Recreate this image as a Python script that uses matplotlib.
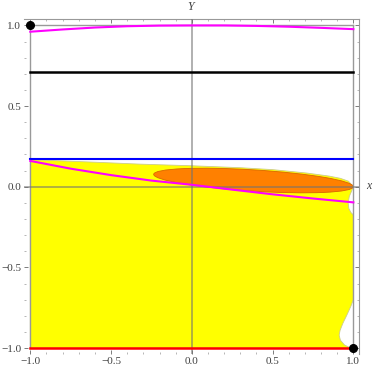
import numpy as np
import matplotlib.pyplot as plt
from matplotlib.patches import Polygon, Ellipse
from matplotlib.ticker import MultipleLocator

plt.rcParams['font.family'] = ['Liberation Serif', 'DejaVu Serif']

# top magenta curve
top_x = [-1.0, -0.8, -0.6, -0.4, -0.2, 0.0, 0.2, 0.4, 0.6, 0.8, 1.0]
top_y = [0.961, 0.975, 0.987, 0.995, 0.999, 1.0, 1.0, 0.997, 0.992, 0.985, 0.977]

# lower magenta curve
low_x = [-1.0, -0.75, -0.5, -0.25, 0.0, 0.25, 0.5, 0.75, 1.0]
low_y = [0.16, 0.112, 0.072, 0.038, 0.012, -0.018, -0.047, -0.073, -0.097]

# yellow region boundary (top edge, right edge with notches, bottom)
reg_x = [-1.0, -0.6, -0.32, 0.0, 0.3, 0.5, 0.71, 0.85, 0.92, 0.97, 1.0,
         0.99, 0.975, 0.968, 0.972, 0.985, 1.0,
         1.0, 0.985, 0.96, 0.935, 0.918, 0.912, 0.92, 0.945, 0.975, 1.0, -1.0]
reg_y = [0.168, 0.152, 0.140, 0.130, 0.118, 0.106, 0.085, 0.066, 0.052, 0.034, 0.0,
         -0.025, -0.06, -0.10, -0.135, -0.16, -0.175,
         -0.70, -0.74, -0.795, -0.847, -0.89, -0.92, -0.952, -0.981, -0.996, -1.0, -1.0]

# orange ellipse: ends of major axis, half minor axis
ell_ends = [(-0.236, 0.077), (1.0, 0.0)]
ell_half_minor = 0.066

h_lines = {'blue': 0.17, 'black': 0.71, 'red': -1.0}
dots_x = [-1.0, 1.0]
dots_y = [1.0, -1.0]

fig = plt.figure(figsize=(3.74, 3.71), dpi=100)
ax = fig.add_axes([24 / 374, 1 - 354 / 371, (359 - 24) / 374, (354 - 19.3) / 371])
ax.set_xlim(-1.039, 1.035)
ax.set_ylim(-1.037, 1.038)

ax.add_patch(Polygon(np.column_stack([reg_x, reg_y]), closed=True,
                     facecolor=(1, 1, 0), edgecolor=(0.8, 0.8, 0.55), lw=0.6, zorder=1))

(x0, y0), (x1, y1) = ell_ends
cx, cy = (x0 + x1) / 2, (y0 + y1) / 2
w = np.hypot(x1 - x0, y1 - y0)
ang = np.degrees(np.arctan2(y1 - y0, x1 - x0))
ax.add_patch(Ellipse((cx, cy), w, 2 * ell_half_minor, angle=ang,
                     facecolor=(1, 0.5, 0), edgecolor=(0.85, 0.4, 0), lw=0.6, zorder=2))

# square boundary and axes
gray = (0.6, 0.6, 0.6)
ax.plot([-1, 1], [1, 1], color=gray, lw=1, zorder=1.5)
ax.plot([-1, -1], [-1, 1], color=gray, lw=1, zorder=3)
ax.plot([1, 1], [-1, 1], color=gray, lw=1, zorder=3)
ax.axhline(0, color=(0.45, 0.45, 0.45), lw=1.3, alpha=0.6, zorder=4)
ax.axvline(0, color=(0.45, 0.45, 0.45), lw=1.3, alpha=0.6, zorder=4)

ax.plot([-1, 1], [h_lines['black']] * 2, color='black', lw=1.8, zorder=5)
ax.plot([-1, 1], [h_lines['blue']] * 2, color=(0, 0, 1), lw=1.5, zorder=5)
ax.plot([-1, 1], [h_lines['red']] * 2, color=(1, 0, 0), lw=1.8, zorder=5)
ax.plot(top_x, top_y, color=(1, 0, 1), lw=1.5, zorder=6)
ax.plot(low_x, low_y, color=(1, 0, 1), lw=1.5, zorder=6)
ax.plot(dots_x, dots_y, 'o', color='black', ms=5.5, zorder=7, clip_on=False)

for s in ['left', 'bottom']:
    ax.spines[s].set_visible(False)
for s in ['top', 'right']:
    ax.spines[s].set_color(gray)
    ax.spines[s].set_linewidth(0.8)

ticks = [-1.0, -0.5, 0.0, 0.5, 1.0]
ax.set_xticks(ticks)
ax.set_yticks(ticks)
ax.set_xticklabels(['\u22121.0', '\u22120.5', '0.0', '0.5', '1.0'])
ax.set_yticklabels(['\u22121.0', '\u22120.5', '0.0', '0.5', '1.0'])
ax.xaxis.set_minor_locator(MultipleLocator(0.1))
ax.yaxis.set_minor_locator(MultipleLocator(0.1))
ax.tick_params(which='major', direction='in', length=3, width=0.6, color=(0.4, 0.4, 0.4),
               labelsize=8, labelcolor=(0.25, 0.25, 0.25), top=True, right=True, pad=2)
ax.tick_params(which='minor', direction='in', length=1.5, width=0.5, color=(0.6, 0.6, 0.6),
               top=True, right=True)

fig.text(191 / 374, 1 - 7 / 371, 'Y', ha='center', va='center', fontsize=8.5,
         style='italic', color=(0.25, 0.25, 0.25))
fig.text(369 / 374, 1 - 186 / 371, 'x', ha='center', va='center', fontsize=8.5,
         style='italic', color=(0.25, 0.25, 0.25))

fig.savefig('out.png', dpi=100)
